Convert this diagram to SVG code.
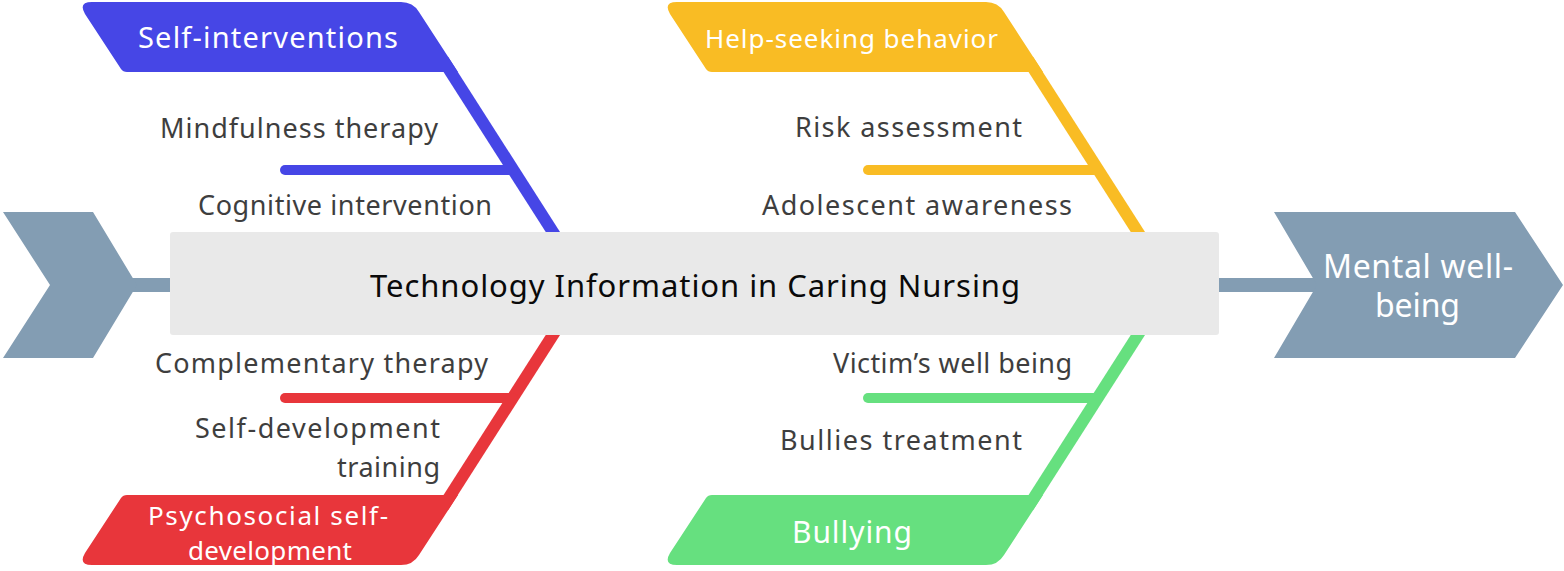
<svg xmlns="http://www.w3.org/2000/svg" width="1564" height="571" viewBox="0 0 1564 571">
<style>
.lbl{font-family:"Noto Sans","Liberation Sans",sans-serif;font-size:27px;fill:#3e3e3e}
.hdr{font-family:"Noto Sans","Liberation Sans",sans-serif;fill:#ffffff}
.ttl{font-family:"Noto Sans","Liberation Sans",sans-serif;font-size:31px;fill:#0a0a0a}
.diag{fill:none;stroke-width:12;stroke-linecap:butt}
.br{fill:none;stroke-width:10;stroke-linecap:round}
</style>
<rect width="1564" height="571" fill="#ffffff"/>
<g id="connectors">
  <rect x="130" y="278" width="1190" height="14" fill="#839db3"/>
  <line class="diag" x1="443" y1="60" x2="558" y2="240" stroke="#4646e6"/>
  <line class="br" x1="285" y1="170" x2="513" y2="170" stroke="#4646e6"/>
  <line class="diag" x1="1028" y1="60" x2="1143" y2="240" stroke="#f9bc24"/>
  <line class="br" x1="868" y1="170" x2="1098" y2="170" stroke="#f9bc24"/>
  <line class="diag" x1="558" y1="327" x2="443" y2="507" stroke="#e8363b"/>
  <line class="br" x1="285" y1="398" x2="513" y2="398" stroke="#e8363b"/>
  <line class="diag" x1="1143" y1="327" x2="1028" y2="507" stroke="#66e07f"/>
  <line class="br" x1="868" y1="398" x2="1098" y2="398" stroke="#66e07f"/>
</g>
<g id="start">
  <path d="M3,212 L93,212 L137,285 L93,358 L3,358 L50,285 Z" fill="#839db3"/>
</g>
<g id="effect">
  <path d="M1274,212 L1515,212 L1563,285 L1515,358 L1274,358 L1317,285 Z" fill="#839db3"/>
  <text class="hdr" x="1323" y="278" font-size="32" textLength="190">Mental well-</text>
  <text class="hdr" x="1375" y="317" font-size="32" textLength="85">being</text>
</g>
<g id="spine">
  <rect x="170" y="232" width="1049" height="103" rx="3" fill="#e9e9e9"/>
  <text class="ttl" x="370" y="297" textLength="650">Technology Information in Caring Nursing</text>
</g>
<g id="self-interventions">
  <path d="M92,2 L401,2 Q413,2 419,12 L458,72 L127,72 Q123,72 121,69 L85,14 Q78,2 92,2 Z" fill="#4646e6"/>
  <text class="hdr" x="138" y="48" font-size="29" textLength="260">Self-interventions</text>
  <text class="lbl" x="160" y="138" textLength="278">Mindfulness therapy</text>
  <text class="lbl" x="198" y="215" textLength="294">Cognitive intervention</text>
</g>
<g id="help-seeking">
  <path d="M677,2 L986,2 Q998,2 1004,12 L1043,72 L712,72 Q708,72 706,69 L670,14 Q663,2 677,2 Z" fill="#f9bc24"/>
  <text class="hdr" x="705" y="48" font-size="26" textLength="293">Help-seeking behavior</text>
  <text class="lbl" x="795" y="137" textLength="227">Risk assessment</text>
  <text class="lbl" x="762" y="215" textLength="310">Adolescent awareness</text>
</g>
<g id="psychosocial">
  <path d="M92,565 L401,565 Q413,565 419,555 L458,495 L127,495 Q123,495 121,498 L85,553 Q78,565 92,565 Z" fill="#e8363b"/>
  <text class="hdr" x="148" y="525" font-size="26" textLength="240">Psychosocial self-</text>
  <text class="hdr" x="188" y="560" font-size="26" textLength="164">development</text>
  <text class="lbl" x="155" y="373" textLength="333">Complementary therapy</text>
  <text class="lbl" x="195" y="438" textLength="245">Self-development</text>
  <text class="lbl" x="337" y="477" textLength="103">training</text>
</g>
<g id="bullying">
  <path d="M677,565 L986,565 Q998,565 1004,555 L1043,495 L712,495 Q708,495 706,498 L670,553 Q663,565 677,565 Z" fill="#66e07f"/>
  <text class="hdr" x="792" y="543" font-size="30" textLength="120">Bullying</text>
  <text class="lbl" x="833" y="373" textLength="239">Victim’s well being</text>
  <text class="lbl" x="780" y="450" textLength="242">Bullies treatment</text>
</g>
</svg>
